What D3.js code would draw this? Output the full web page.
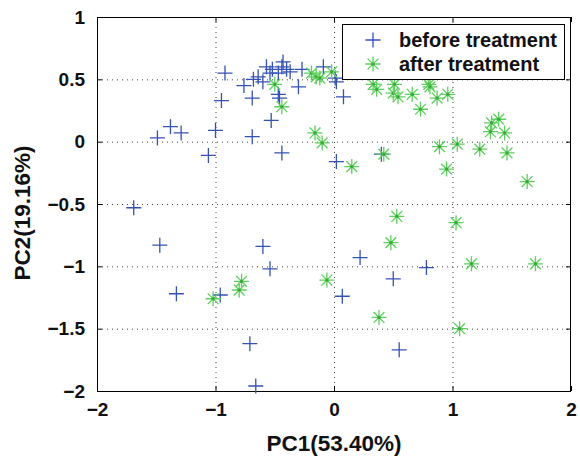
<!DOCTYPE html>
<html>
<head>
<meta charset="utf-8">
<script src="https://cdn.jsdelivr.net/npm/d3@7"></script>
<style>
  body { margin: 0; background: #fff; }
  text { font-family: "Liberation Sans", Arial, sans-serif; font-weight: bold; fill: #111; }
</style>
</head>
<body>
<svg id="chart" width="580" height="456"></svg>
<script>
// PCA scores
var beforeTreatment = [
  [-1.69,-0.53], [-1.47,-0.83], [-1.33,-1.22], [-0.96,-1.23], [-0.71,-1.62], [-0.66,-1.96],
  [0.55,-1.67], [0.07,-1.24], [-0.60,-0.84], [-0.54,-1.02], [0.22,-0.93], [0.78,-1.01],
  [0.50,-1.10], [0.02,-0.16], [0.40,-0.10], [-0.44,-0.09], [-1.06,-0.11], [-1.49,0.03],
  [-1.38,0.12], [-1.29,0.07], [-1.00,0.09], [-0.69,0.04], [-0.53,0.17], [-0.92,0.55],
  [-0.95,0.33], [-0.76,0.45], [-0.69,0.35], [-0.68,0.50], [-0.64,0.52], [-0.60,0.48],
  [-0.57,0.60], [-0.54,0.55], [-0.52,0.58], [-0.47,0.55], [-0.44,0.60], [-0.43,0.64],
  [-0.40,0.58], [-0.47,0.38], [-0.46,0.35], [-0.30,0.44], [-0.27,0.58], [-0.09,0.60],
  [0.01,0.51], [0.02,0.48], [0.08,0.36], [-0.37,0.56]
];
var afterTreatment = [
  [-0.50,0.46], [-0.44,0.28], [-0.19,0.55], [-0.15,0.52], [-0.12,0.51], [-0.02,0.56],
  [-0.16,0.07], [-0.10,-0.01], [0.33,0.46], [0.36,0.42], [0.51,0.46], [0.50,0.39],
  [0.54,0.36], [0.66,0.38], [0.73,0.26], [0.80,0.46], [0.81,0.44], [0.87,0.35],
  [0.96,0.38], [0.42,-0.10], [0.89,-0.04], [1.04,-0.02], [1.23,-0.06], [1.33,0.15],
  [1.39,0.18], [1.32,0.08], [1.44,0.07], [1.46,-0.09], [0.15,-0.20], [0.95,-0.22],
  [1.63,-0.32], [0.53,-0.60], [1.03,-0.65], [0.48,-0.81], [1.16,-0.98], [1.70,-0.98],
  [-0.06,-1.11], [-0.78,-1.12], [-0.80,-1.19], [-1.02,-1.26], [0.38,-1.41], [1.06,-1.50]
];
var xTicks = [-2, -1, 0, 1, 2];
var yTicks = [-2, -1.5, -1, -0.5, 0, 0.5, 1];
var seriesNames = ["before treatment", "after treatment"];

var svg = d3.select("#chart");
var plotLeft = 97, plotTop = 17, plotRight = 571, plotBottom = 391;
var blue = "#3452b4", green = "#5cd05c";

var x = d3.scaleLinear().domain([-2, 2]).range([plotLeft, plotRight]);
var y = d3.scaleLinear().domain([-2, 1]).range([plotBottom, plotTop]);

function fmt(v) { return String(v).replace("-", "\u2212"); }

//dotted grid
var grid = svg.append("g").attr("stroke", "#444").attr("stroke-width", 1).attr("stroke-dasharray", "1,4");
grid.selectAll("line.gx").data(xTicks.slice(1, -1)).enter().append("line")
  .attr("x1", function(d){return x(d)+0.5;}).attr("x2", function(d){return x(d)+0.5;})
  .attr("y1", plotTop).attr("y2", plotBottom);
grid.selectAll("line.gy").data(yTicks.slice(1, -1)).enter().append("line")
  .attr("y1", function(d){return y(d)+0.5;}).attr("y2", function(d){return y(d)+0.5;})
  .attr("x1", plotLeft).attr("x2", plotRight);

//axes on all four sides with inner ticks
var tl = 5;
svg.append("g").attr("transform", "translate(0," + plotBottom + ")")
  .call(d3.axisBottom(x).tickValues(xTicks).tickSizeInner(-tl).tickSizeOuter(0).tickPadding(12).tickFormat(fmt));
svg.append("g").attr("transform", "translate(0," + plotTop + ")")
  .call(d3.axisTop(x).tickValues(xTicks).tickSizeInner(-tl).tickSizeOuter(0).tickFormat(""));
svg.append("g").attr("transform", "translate(" + plotLeft + ",0)")
  .call(d3.axisLeft(y).tickValues(yTicks).tickSizeInner(-tl).tickSizeOuter(0).tickPadding(12).tickFormat(fmt));
svg.append("g").attr("transform", "translate(" + plotRight + ",0)")
  .call(d3.axisRight(y).tickValues(yTicks).tickSizeInner(-tl).tickSizeOuter(0).tickFormat(""));
svg.selectAll(".domain").remove();
svg.selectAll(".tick line").attr("stroke", "#000");
svg.selectAll(".tick text").style("font-size", "19px").style("font-family", "Liberation Sans, Arial, sans-serif")
  .style("font-weight", "bold").attr("fill", "#111");

svg.append("rect").attr("x", plotLeft + 0.5).attr("y", plotTop + 0.5)
  .attr("width", plotRight - plotLeft - 1).attr("height", plotBottom - plotTop)
  .attr("fill", "none").attr("stroke", "#000").attr("stroke-width", 1);

//marker shapes
var r = 7.5;
function plusPath(s) { return "M" + (-s) + ",0H" + s + "M0," + (-s) + "V" + s; }
function starPath(s) {
  var d = s * 0.72;
  return plusPath(s) + "M" + (-d) + "," + (-d) + "L" + d + "," + d + "M" + (-d) + "," + d + "L" + d + "," + (-d);
}

svg.append("g").selectAll("path").data(beforeTreatment).enter().append("path")
  .attr("transform", function(d){return "translate(" + x(d[0]) + "," + y(d[1]) + ")";})
  .attr("d", plusPath(r)).attr("fill", "none").attr("stroke", blue).attr("stroke-width", 1.3);

var after = svg.append("g").selectAll("g").data(afterTreatment).enter().append("g")
  .attr("transform", function(d){return "translate(" + x(d[0]) + "," + y(d[1]) + ")";});
after.append("path").attr("d", starPath(r)).attr("fill", "none").attr("stroke", green).attr("stroke-width", 1.3);
after.append("circle").attr("r", 1.6).attr("fill", "#3aa83a");

//legend
var lg = svg.append("g");
lg.append("rect").attr("x", 342.5).attr("y", 24.5).attr("width", 222).attr("height", 55)
  .attr("fill", "#fff").attr("stroke", "#000");
var rows = lg.selectAll("g").data(seriesNames).enter().append("g")
  .attr("transform", function(d, i){return "translate(373," + (40 + i * 24) + ")";});
rows.filter(function(d, i){return i === 0;}).append("path").attr("d", plusPath(r))
  .attr("fill", "none").attr("stroke", blue).attr("stroke-width", 1.3);
rows.filter(function(d, i){return i === 1;}).append("path").attr("d", starPath(r))
  .attr("fill", "none").attr("stroke", green).attr("stroke-width", 1.3);
rows.filter(function(d, i){return i === 1;}).append("circle").attr("r", 1.6).attr("fill", "#3aa83a");
rows.append("text").attr("x", 26).attr("y", 7).style("font-size", "20px").text(function(d){return d;});

//axis titles
svg.append("text").attr("x", (plotLeft + plotRight) / 2).attr("y", 451).attr("text-anchor", "middle")
  .style("font-size", "22.5px").text("PC1(53.40%)");
svg.append("text").attr("transform", "translate(30,213) rotate(-90)").attr("text-anchor", "middle")
  .style("font-size", "22.5px").text("PC2(19.16%)");
</script>
</body>
</html>
